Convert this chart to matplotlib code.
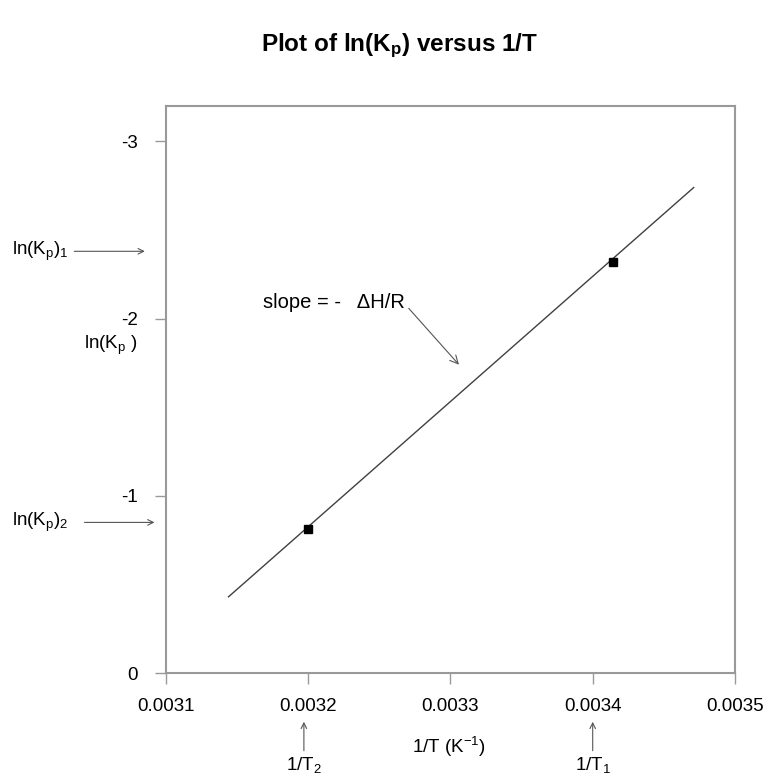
import matplotlib.pyplot as plt
import numpy as np

plt.rcParams['font.family'] = ['Liberation Sans', 'DejaVu Sans']
plt.rcParams['mathtext.fontset'] = 'custom'
plt.rcParams['mathtext.rm'] = 'Liberation Sans'
plt.rcParams['mathtext.it'] = 'Liberation Sans'

# data
inv_T = [0.00320, 0.003414]          # 1/T2, 1/T1
ln_Kp = [-0.81, -2.32]               # ln(Kp)2, ln(Kp)1
fit_x = [0.003144, 0.003471]
fit_y = [-0.43, -2.74]
x_ticks = [0.0031, 0.0032, 0.0033, 0.0034, 0.0035]
y_ticks = [0, -1, -2, -3]

gray = '#999999'
fs = 13.5

fig = plt.figure(figsize=(7.68, 7.76), dpi=100)
ax = fig.add_axes([0.216, 0.1327, 0.741, 0.7307])

ax.plot(fit_x, fit_y, color='#404040', lw=1.0)
ax.plot(inv_T, ln_Kp, 's', color='black', ms=6)

ax.set_xlim(0.0031, 0.0035)
ax.set_ylim(0, -3.2)
ax.set_xticks(x_ticks)
ax.set_xticklabels(['%.4f' % v for v in x_ticks])
ax.set_yticks(y_ticks)
ax.set_yticklabels(['%d' % v for v in y_ticks])
ax.tick_params(direction='out', length=8, width=1, color=gray,
               labelsize=fs)
ax.tick_params(axis='x', pad=10)
ax.tick_params(axis='y', pad=12)
for s in ax.spines.values():
    s.set_color(gray)
    s.set_linewidth(1.5)

fig.text(0.52, 1 - 46 / 776, r'Plot of ln(K$_\mathregular{p}$) versus 1/T',
         ha='center', va='center', fontsize=17.5, fontweight='bold')

arrow = dict(arrowstyle='->', color='#555555', lw=0.8, shrinkA=0, shrinkB=0)
ytr = ax.get_yaxis_transform()
xtr = ax.get_xaxis_transform()

# y-side labels with arrows
ax.annotate('', xy=(-0.037, -2.38), xytext=(-0.161, -2.38), xycoords=ytr,
            textcoords=ytr, arrowprops=arrow, annotation_clip=False)
ax.text(-0.271, -2.38, r'ln(K$_\mathregular{p}$)$_\mathregular{1}$', transform=ytr,
        ha='left', va='center', fontsize=fs)
ax.annotate('', xy=(-0.02, -0.85), xytext=(-0.143, -0.85), xycoords=ytr,
            textcoords=ytr, arrowprops=arrow, annotation_clip=False)
ax.text(-0.271, -0.85, r'ln(K$_\mathregular{p}$)$_\mathregular{2}$', transform=ytr,
        ha='left', va='center', fontsize=fs)
ax.text(-0.097, -1.85, r'ln(K$_\mathregular{p}$ )', transform=ytr,
        ha='center', va='center', fontsize=fs)

# x-side labels with arrows
for xv, lab in [(0.003197, r'1/T$_\mathregular{2}$'), (0.0034, r'1/T$_\mathregular{1}$')]:
    ax.annotate('', xy=(xv, -0.086), xytext=(xv, -0.137), xycoords=xtr,
                textcoords=xtr, arrowprops=arrow, annotation_clip=False)
    ax.text(xv, -0.162, lab, transform=xtr, ha='center', va='center', fontsize=fs)

ax.text(0.497, -0.13, r'1/T (K$^\mathregular{-1}$)', transform=ax.transAxes,
        ha='center', va='center', fontsize=fs)

# slope annotation
ax.annotate('slope = -   \u0394H/R', xy=(0.003306, -1.74), xytext=(0.003168, -2.09),
            arrowprops=dict(arrowstyle='->', color='#555555', lw=0.8,
                            shrinkA=0, shrinkB=0, relpos=(1.03, 0.2)),
            ha='left', va='center', fontsize=14.5)

fig.savefig('out.png', dpi=100)
